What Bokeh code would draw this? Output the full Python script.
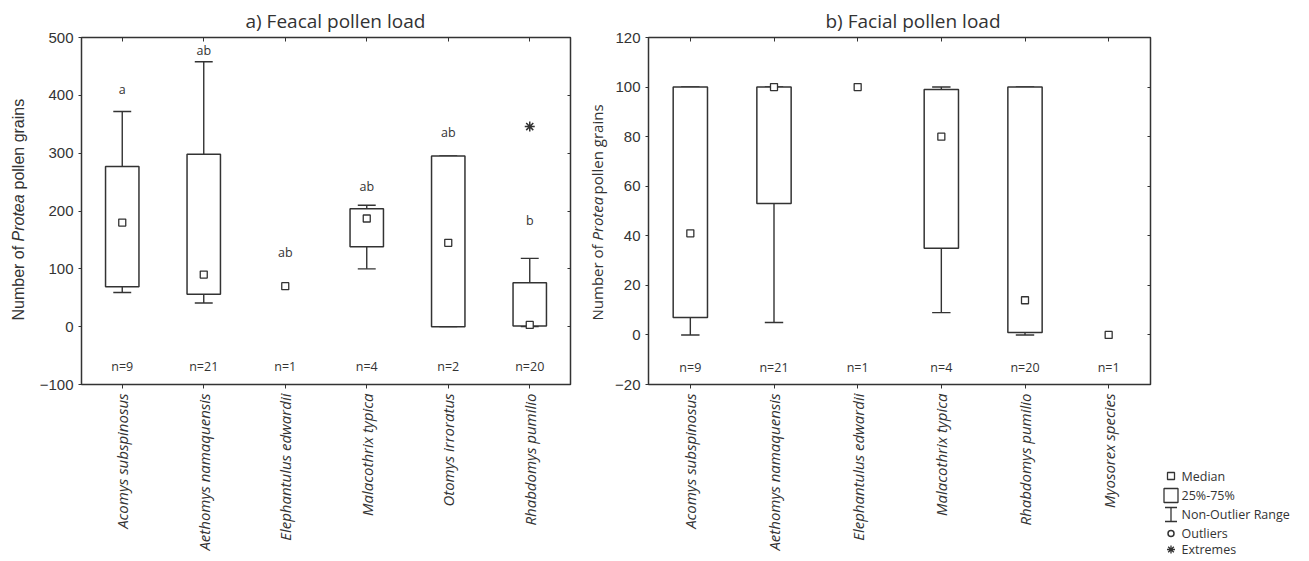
import math
import numpy as np
from bokeh.plotting import figure
from bokeh.models import (ColumnDataSource, FactorRange, Range1d, FixedTicker,
                          LinearAxis, CategoricalAxis, Spacer)
from bokeh.transform import dodge
from bokeh.layouts import row, column
from bokeh.core.properties import value
from bokeh.embed import file_html
from bokeh.resources import INLINE

nan = float("nan")

# ---------------- data: a) Feacal pollen load ----------------
species_a = ["Acomys subspinosus", "Aethomys namaquensis", "Elephantulus edwardii",
             "Malacothrix typica", "Otomys irroratus", "Rhabdomys pumilio"]
a_median = [180, 90, 70, 187, 145, 3]
a_q1 = [69, 56, nan, 138, 0, 1]
a_q3 = [277, 298, nan, 204, 295, 76]
a_wlo = [59, 41, nan, 100, 0, 0]
a_whi = [372, 458, nan, 210, 295, 118]
a_n = ["n=9", "n=21", "n=1", "n=4", "n=2", "n=20"]
a_letters = ["a", "ab", "ab", "ab", "ab", "b"]
a_letter_y = [410, 477, 128, 243, 336, 183]
a_extreme_species = ["Rhabdomys pumilio"]
a_extreme_value = [346]
a_yticks = [-100, 0, 100, 200, 300, 400, 500]

# ---------------- data: b) Facial pollen load ----------------
species_b = ["Acomys subspinosus", "Aethomys namaquensis", "Elephantulus edwardii",
             "Malacothrix typica", "Rhabdomys pumilio", "Myosorex species"]
b_median = [41, 100, 100, 80, 14, 0]
b_q1 = [7, 53, nan, 35, 1, nan]
b_q3 = [100, 100, nan, 99, 100, nan]
b_wlo = [0, 5, nan, 9, 0, nan]
b_whi = [100, 100, nan, 100, 100, nan]
b_n = ["n=9", "n=21", "n=1", "n=4", "n=20", "n=1"]
b_yticks = [-20, 0, 20, 40, 60, 80, 100, 120]

titles = ["a) Feacal pollen load", "b) Facial pollen load"]
ylabel_parts = ["Number of", "Protea", "pollen grains"]
legend_labels = ["Median", "25%-75%", "Non-Outlier Range", "Outliers", "Extremes"]

INK = "#333333"
TXT = "#333333"
H = 558
TOP = 37
FB = 384            # frame bottom (px from top)
BOTTOM = H - FB


def panel(species, med, q1, q3, wlo, whi, nlab, yr, yticks, width, bl, br,
          n_y, title, title_offset, letters=None, letter_y=None, ext_sp=None, ext_v=None):
    p = figure(width=width, height=H, x_range=FactorRange(factors=species),
               y_range=Range1d(*yr), output_backend="svg", toolbar_location=None,
               min_border_left=bl, min_border_right=br, min_border_top=TOP,
               min_border_bottom=BOTTOM, background_fill_color="white",
               border_fill_color="white")
    p.title.text = title
    p.title.text_font = "Open Sans"
    p.title.text_font_size = "19px"
    p.title.text_font_style = "normal"
    p.title.text_color = TXT
    p.title.align = "left"
    p.title.offset = title_offset
    p.title.standoff = 8
    p.xgrid.visible = False
    p.ygrid.visible = False
    p.outline_line_color = INK
    p.outline_line_width = 1.5

    src = ColumnDataSource(dict(x=species, med=med, q1=q1, q3=q3, wlo=wlo, whi=whi,
                                n=nlab, ny=[n_y] * len(species)))
    # whiskers
    p.segment(x0="x", y0="wlo", x1="x", y1="q1", source=src, line_color=INK, line_width=1.4)
    p.segment(x0="x", y0="q3", x1="x", y1="whi", source=src, line_color=INK, line_width=1.4)
    cl = dodge("x", -0.11, range=p.x_range)
    cr = dodge("x", 0.11, range=p.x_range)
    p.segment(x0=cl, y0="wlo", x1=cr, y1="wlo", source=src, line_color=INK, line_width=1.4)
    p.segment(x0=cl, y0="whi", x1=cr, y1="whi", source=src, line_color=INK, line_width=1.4)
    # boxes
    p.vbar(x="x", width=0.41, bottom="q1", top="q3", source=src, fill_color="white",
           line_color=INK, line_width=1.5)
    # medians
    p.scatter(x="x", y="med", source=src, marker="square", size=7, fill_color="white",
              line_color=INK, line_width=1.3)
    # n labels
    p.text(x="x", y="ny", text="n", source=src, text_font=value("Open Sans"),
           text_font_size="12.5px", text_color=TXT, text_align="center",
           text_baseline="middle")
    if letters is not None:
        lsrc = ColumnDataSource(dict(x=species, y=letter_y, t=letters))
        p.text(x="x", y="y", text="t", source=lsrc, text_font=value("Open Sans"),
               text_font_size="12.5px", text_color=TXT, text_align="center",
               text_baseline="middle")
    if ext_sp is not None:
        p.scatter(x=ext_sp, y=ext_v, marker="asterisk", size=10, line_color=INK,
                  line_width=1.5)

    # axes
    ya = p.yaxis[0]
    ya.ticker = FixedTicker(ticks=yticks)
    ya.minor_tick_line_color = None
    ya.major_tick_out = 3
    ya.major_tick_in = 0
    ya.major_tick_line_color = INK
    ya.axis_line_color = None
    ya.major_label_standoff = 5
    ya.major_label_text_font = "Liberation Sans"
    ya.major_label_text_font_size = "15px"
    ya.major_label_text_color = TXT

    xa = p.xaxis[0]
    xa.major_tick_out = 4
    xa.major_tick_in = 0
    xa.major_tick_line_color = INK
    xa.axis_line_color = None
    xa.major_label_orientation = math.pi / 2
    xa.major_label_standoff = 5
    xa.major_label_text_font = "Open Sans"
    xa.major_label_text_font_style = "italic"
    xa.major_label_text_font_size = "15px"
    xa.major_label_text_color = TXT

    ra = LinearAxis(ticker=FixedTicker(ticks=yticks), major_tick_in=3, major_tick_out=0,
                    major_tick_line_color=INK, axis_line_color=None,
                    minor_tick_line_color=None, major_label_text_font_size="0px",
                    major_label_text_color=None, major_label_standoff=0)
    p.add_layout(ra, "right")
    ta = CategoricalAxis(major_tick_in=4, major_tick_out=0, major_tick_line_color=INK,
                         axis_line_color=None, major_label_text_font_size="0px",
                         major_label_text_color=None, major_label_standoff=0)
    p.add_layout(ta, "above")
    return p


def ylabel_fig(width, x, ys, font, size):
    # narrow strip whose frame spans the same rows as the panels' frames;
    # its y data are pixel rows from the top of the page.
    f = figure(width=width, height=H, x_range=Range1d(0, width), y_range=Range1d(FB, TOP),
               output_backend="svg", toolbar_location=None, min_border_left=0,
               min_border_right=0, min_border_top=TOP, min_border_bottom=BOTTOM)
    f.axis.visible = False
    f.grid.visible = False
    f.outline_line_color = None
    styles = ["normal", "italic", "normal"]
    for txt, y, st in zip(ylabel_parts, ys, styles):
        f.text(x=[x], y=[y], text=[txt], angle=math.pi / 2, text_font=value(font),
               text_font_size=size, text_font_style=st, text_color=TXT,
               text_align="left", text_baseline="middle")
    return f


p0 = ylabel_fig(36, 17.5, [320, 241, 189], "Liberation Sans", "16px")
p1 = panel(species_a, a_median, a_q1, a_q3, a_wlo, a_whi, a_n, (-100, 500), a_yticks,
           542, 37, 8, -69, titles[0], 164, a_letters, a_letter_y,
           a_extreme_species, a_extreme_value)
q0 = ylabel_fig(34, 18, [320, 240, 194], "Open Sans", "15px")
p2 = panel(species_b, b_median, b_q1, b_q3, b_wlo, b_whi, b_n, (-20, 120), b_yticks,
           543, 35, 5, -13, titles[1], 177)

# legend panel (y data are pixel rows from the top of the legend panel)
LH = 100
p3 = figure(width=146, height=LH, x_range=Range1d(0, 146), y_range=Range1d(LH, 0),
            output_backend="svg", toolbar_location=None, min_border=0,
            min_border_left=0, min_border_right=0, min_border_top=0, min_border_bottom=0)
p3.axis.visible = False
p3.grid.visible = False
p3.outline_line_color = None
ly = [17.5, 37, 56, 75, 91]
mx = 15.5
p3.scatter(x=[mx], y=[ly[0]], marker="square", size=7, fill_color="white",
           line_color=INK, line_width=1.3)
p3.quad(left=[mx - 7], right=[mx + 7], top=[ly[1] - 7], bottom=[ly[1] + 7],
        fill_color="white", line_color=INK, line_width=1.3)
p3.segment(x0=[mx, mx - 6, mx - 6], y0=[ly[2] - 7, ly[2] - 7, ly[2] + 7],
           x1=[mx, mx + 6, mx + 6], y1=[ly[2] + 7, ly[2] - 7, ly[2] + 7],
           line_color=INK, line_width=1.3)
p3.scatter(x=[mx], y=[ly[3]], marker="circle", size=6, fill_color="white",
           line_color=INK, line_width=1.5)
p3.scatter(x=[mx], y=[ly[4]], marker="asterisk", size=8, line_color=INK, line_width=1.3)
p3.text(x=[26] * 5, y=ly, text=legend_labels, text_font=value("Open Sans"),
        text_font_size="12.5px", text_color=TXT, text_align="left", text_baseline="middle")

legend_col = column(Spacer(width=146, height=H - LH), p3)
layout = row(p0, p1, q0, p2, legend_col)
open("out.html", "w").write(file_html(layout, INLINE))
